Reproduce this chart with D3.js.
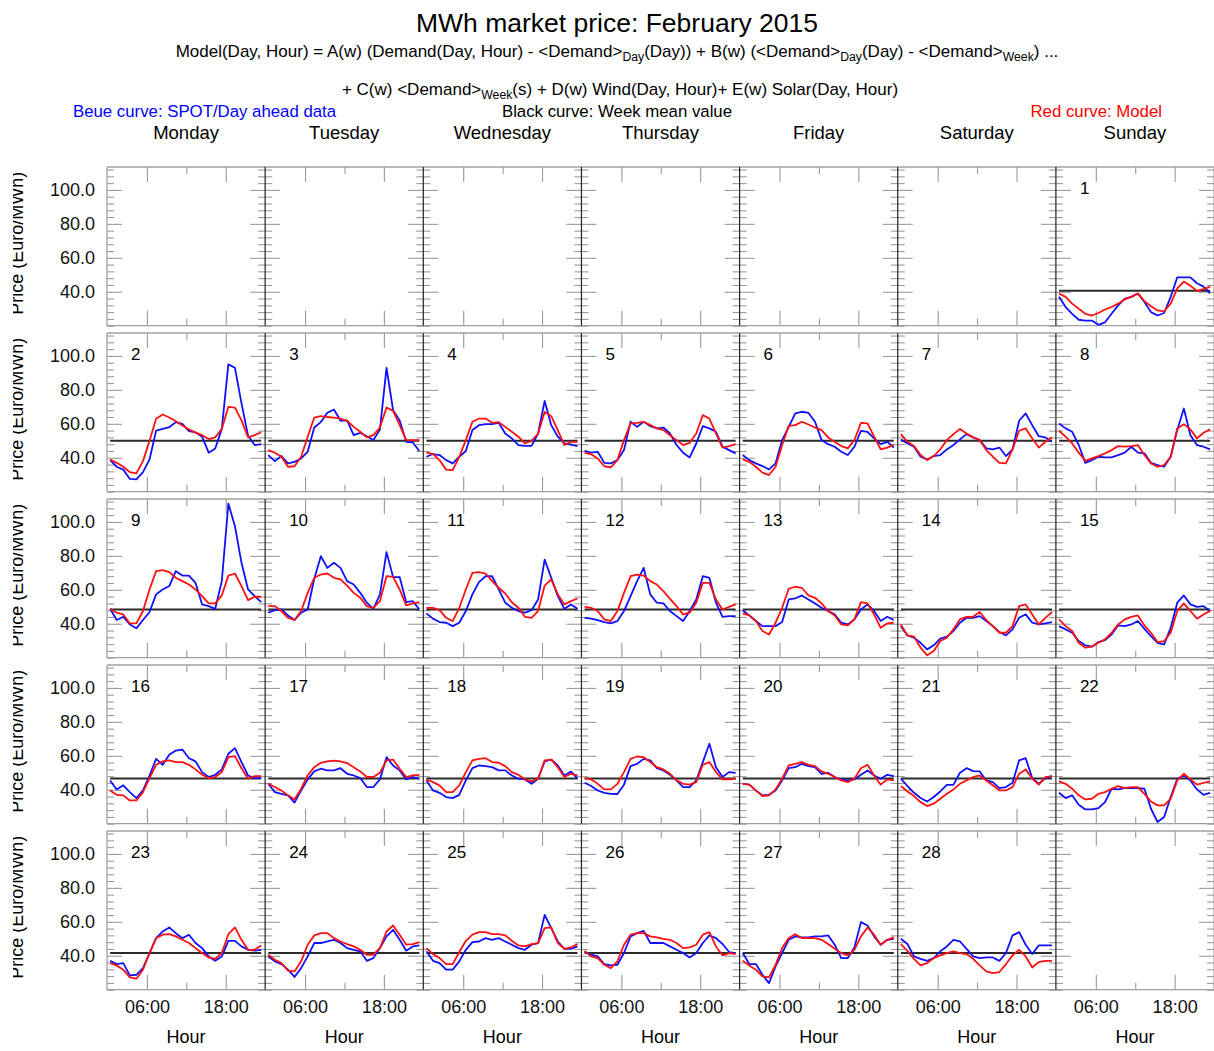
<!DOCTYPE html>
<html>
<head>
<meta charset="utf-8">
<script src="https://cdn.jsdelivr.net/npm/d3@7"></script>
<style>
  body { margin: 0; background: #fff; }
  svg { display: block; font-family: "Liberation Sans", Arial, Helvetica, sans-serif; }
</style>
</head>
<body>
<svg id="chart"></svg>
<script>
let dayNames = ["Monday", "Tuesday", "Wednesday", "Thursday", "Friday", "Saturday", "Sunday"];
let yTicks = [40, 60, 80, 100];
let yTickLabels = ["40.0", "60.0", "80.0", "100.0"];
let xTicks = [6, 18];
let xTickLabels = ["06:00", "18:00"];

// black curve, one value per calendar row (week)
let weekMean = [40.6, 50, 48.4, 46.7, 41.6];

// blue curve: SPOT / day ahead, 24 hourly values for Feb 1..28
let spot = [
  [37, 31, 27, 23.5, 23, 23, 20.5, 22, 27, 32, 36, 37, 39, 34, 28, 26, 27.5, 37, 48.5, 48.5, 48.5, 45, 43, 39],
  [38.6, 34.7, 33, 27.5, 27.3, 31.5, 39, 56, 57, 58, 61, 60, 55.7, 55, 52.4, 43, 45.5, 57, 95, 93, 72, 53, 47.5, 48],
  [41.6, 38, 41, 36.7, 37.6, 39.6, 43.5, 57.8, 61, 66.5, 68.4, 61.8, 62, 53.3, 54.7, 52.7, 50.4, 56.7, 93, 68, 62, 49.4, 49, 44],
  [40.6, 42.2, 41.6, 38.6, 36.7, 40.6, 44, 56.3, 59.2, 59.8, 59.8, 60.6, 54.3, 51.4, 47.5, 47, 47, 54.3, 73.5, 59.2, 52.4, 48.4, 47.8, 46.9],
  [44, 43, 43.5, 37, 36.7, 38.6, 44.5, 61.2, 58.2, 61.2, 58.6, 57.3, 57.8, 54.3, 47.5, 43, 40.2, 48.4, 58.6, 57.3, 55.3, 46.5, 44.5, 42.6],
  [41.6, 38.6, 36.7, 35.1, 33.1, 36.7, 50.4, 58.2, 66.1, 67.1, 66.5, 61.2, 50.4, 48, 46.5, 43.5, 41.6, 46.5, 55.9, 55.3, 51.4, 48, 49.4, 46],
  [50.8, 48.4, 46.5, 40.6, 39, 41, 41.6, 44.9, 47.5, 50.8, 53.9, 52, 50.4, 45.5, 44.9, 46, 41, 44.9, 61.8, 66.1, 59.2, 52.7, 52, 49.4],
  [60.2, 57.3, 55.3, 47.5, 37, 38.6, 40.6, 40.2, 40.2, 41.6, 43, 46.5, 43, 42.6, 37, 35.7, 34.7, 40.6, 56.3, 69, 53.3, 47.5, 46.5, 44.9],
  [48.8, 42.2, 44.1, 39.6, 37.3, 42.2, 46.9, 57.3, 60.2, 62.2, 71, 68.4, 68.4, 64.1, 51.4, 50.4, 48.8, 65.1, 110.8, 97.5, 75.9, 60.2, 56.3, 52.7],
  [46.5, 48, 48.4, 44.9, 42.2, 46.5, 48.4, 66.5, 79.8, 72.9, 75.9, 72.9, 65.1, 63.1, 58.2, 52.4, 48.8, 57.3, 82.2, 67.5, 67.5, 52.7, 53.3, 48.4],
  [46.1, 43, 41, 40.6, 38.6, 40.6, 47.5, 57.3, 64.5, 68, 68, 60.2, 52.4, 49.4, 47.5, 46.5, 48, 54.3, 77.8, 67.1, 56.3, 48.8, 51.4, 48.8],
  [43.5, 43, 42.2, 41, 40.2, 41.6, 47.5, 56.3, 65.1, 72.9, 57.3, 52.4, 52, 47.5, 44.5, 41.6, 47.5, 54.3, 68, 67.1, 52.4, 44.1, 44.5, 44.5],
  [48, 44.9, 41.6, 38.6, 38.6, 38.6, 41, 54.3, 54.9, 56.7, 54.3, 52, 49.4, 47.5, 45.5, 40.6, 39.6, 42.6, 48.4, 51.4, 47.5, 41.6, 44.1, 42.2],
  [38.6, 33.1, 31.8, 28.8, 24.9, 27.3, 31.2, 32.4, 35.7, 40.6, 43.5, 43.5, 44.5, 41.6, 38.6, 35.1, 33.1, 36.7, 43.5, 45.5, 40.6, 39.6, 40.2, 41],
  [38.6, 36.7, 34.7, 29.8, 27.3, 26.5, 29.2, 30.4, 33.7, 39, 38.6, 39.6, 41.6, 37, 32.7, 28.8, 27.8, 37.6, 52.4, 56.7, 51.4, 50, 50.4, 47.5],
  [45.5, 40.2, 42.6, 38.6, 35.1, 39.6, 48.4, 58.2, 54.7, 60.6, 63.1, 63.7, 58.6, 56.7, 50.4, 47.5, 48.8, 52, 61.2, 64.5, 56.3, 48.4, 46.9, 46.9],
  [43.5, 38.6, 37.6, 36.7, 32.4, 39.6, 46.1, 50.8, 52.4, 51.4, 51.4, 52.7, 49.4, 48.4, 46.9, 41.6, 41.6, 46.1, 59.2, 54.3, 51.4, 46.1, 47.5, 46.5],
  [45.5, 39.6, 38.2, 35.7, 35.1, 37, 45.5, 52.7, 54.3, 53.9, 53.3, 51.4, 51.4, 48.4, 46.5, 46.1, 43.5, 46.5, 56.7, 57.8, 54.3, 48.4, 50.8, 46.5],
  [44.1, 42.2, 39.6, 38.2, 37.6, 37.5, 43, 53.9, 55.3, 58.2, 57.3, 52.7, 51.4, 48.8, 45.5, 41.6, 41.6, 45.5, 56.3, 67.1, 53.3, 47.5, 50.4, 50],
  [43.5, 43, 39.6, 36.7, 37, 39.6, 45.5, 52.7, 53.3, 55.3, 53.9, 53.3, 49.4, 50, 47.5, 46.1, 45.5, 46.1, 48.8, 51.4, 48.4, 46.5, 48.8, 48],
  [46.5, 42.2, 38.2, 35.1, 33.1, 35.7, 39, 42.9, 42.9, 50, 52.7, 51, 50.8, 45.5, 44.5, 41, 41.6, 44.1, 57.3, 58.6, 46.9, 43.5, 46.9, 48],
  [38.2, 35.1, 36.7, 31.2, 28.4, 28.4, 29.2, 32.7, 40.6, 40.2, 41, 41, 41, 40.6, 28.8, 21, 23.9, 35.7, 46.5, 48.4, 45.5, 40.2, 37, 38.2],
  [37, 35.1, 35.7, 28.4, 28.8, 32.7, 41.6, 50.4, 54.3, 56.7, 53.3, 50.4, 52.4, 47.5, 44.5, 39.6, 37, 39.6, 48.8, 48.8, 45.5, 43.5, 43, 43.5],
  [39.6, 36.7, 35.1, 31.8, 27.5, 32.7, 39.6, 47.5, 47.5, 48.4, 49.4, 47.5, 44.5, 43.5, 42.6, 37, 38.6, 44.5, 51.4, 55.3, 49.4, 43, 45.5, 46.1],
  [42.6, 37, 35.7, 31.8, 31.8, 36.7, 43.5, 48, 48.4, 50.4, 49.4, 50.4, 48.4, 46.5, 44.5, 43.5, 46.5, 47.5, 64.1, 56.3, 48.4, 44.1, 44.1, 45.5],
  [42.2, 40.6, 39.6, 35.1, 34.3, 34.7, 41.6, 51.4, 53.3, 54.7, 47.5, 47.5, 47.5, 45.5, 43.5, 41.6, 39, 41.6, 47.5, 52, 50.4, 46.9, 42.2, 41.6],
  [41.6, 35.1, 35.1, 28.8, 23.9, 33.7, 41.6, 49.4, 51.4, 50.8, 50.8, 51.4, 51.4, 52, 46.5, 38.6, 38.6, 44.9, 59.8, 57.8, 51.4, 46.5, 49.4, 50],
  [50, 46.9, 39.6, 38.2, 37, 38.6, 42.6, 45.5, 49.4, 48.4, 44.1, 39.6, 38.6, 39, 39, 37, 41.6, 52, 53.9, 46.5, 41, 46.1, 46.1, 46.1]
];

// red curve: model, 24 hourly values for Feb 1..28
let model = [
  [39, 37, 33, 30, 27, 26, 27.5, 29.5, 31, 33, 35.5, 37, 39, 34.5, 31.5, 29, 28.5, 33, 42, 46, 43.5, 40.5, 41.5, 43],
  [39, 37, 34.7, 31.5, 30.8, 38, 50, 63, 65.5, 63.7, 61.5, 59, 56.7, 54.8, 53.3, 51, 52, 57, 70, 69.5, 62, 52, 53.3, 55],
  [44.5, 43, 40.6, 34.7, 35, 40.6, 52.4, 63.7, 64.5, 64, 63.7, 63, 61.8, 58.2, 55.3, 52, 53.3, 57.8, 69.6, 67.6, 59.2, 50.4, 50.4, 50.4],
  [43, 42.2, 38.6, 33, 32.7, 40.6, 50.4, 61.2, 63.1, 63.1, 60.6, 61, 58.2, 55.3, 52.4, 48.4, 50, 54.3, 67, 64.5, 56.3, 47.5, 49.4, 49.4],
  [43, 42, 39.6, 35, 34.3, 38.6, 50.4, 60.2, 60.6, 61.2, 59.2, 57.3, 56.3, 53.3, 50.4, 47.5, 48.8, 54.3, 65.1, 63.1, 54.3, 46, 46.9, 48],
  [39, 37.6, 34.7, 31.2, 29.8, 34.7, 47.5, 58.8, 59.2, 61.2, 59.6, 57.8, 56.3, 52, 49.4, 46.9, 45.5, 50.4, 60.6, 60.2, 52.4, 45, 46, 47.5],
  [53.9, 49.4, 46.9, 41.6, 38.6, 41, 44.9, 50.4, 53.9, 56.9, 54.3, 52, 50.4, 44.5, 40.6, 37, 36.7, 44.9, 55.9, 57.3, 51.4, 46, 49.4, 52],
  [55.9, 52.4, 48.4, 43, 38.2, 39.6, 41, 42.6, 44.5, 46.9, 46.5, 46.9, 47.5, 41.6, 36.7, 34.7, 35.7, 40.6, 57.3, 59.8, 56.7, 51.4, 54.7, 56.7],
  [48.8, 46.5, 45.5, 40.2, 40.2, 47.5, 60.2, 71, 71.6, 70.4, 67.1, 65.1, 63.1, 60.2, 56.3, 52, 52, 56.7, 68.4, 69.6, 62.2, 53.9, 55.9, 55.9],
  [50.4, 50.4, 47.5, 43.5, 42.2, 47.5, 58.2, 67.1, 69, 69.6, 67.1, 66.1, 62.5, 58.2, 55.3, 50.4, 49.4, 53.3, 68, 67.6, 60.2, 50.8, 52, 52.7],
  [49.4, 49.4, 48, 43.5, 41.6, 49.4, 60.2, 70, 70.4, 69.6, 65.1, 61.2, 57.8, 52.7, 49.4, 44.1, 43.5, 47.5, 62.5, 66.1, 57.3, 51.4, 53.3, 54.9],
  [50, 49.4, 47.5, 42.6, 41.6, 47.5, 58.2, 68, 69, 68.4, 65.1, 63.1, 59.2, 54.7, 50.4, 45.5, 46.5, 52.4, 64.1, 64.1, 54.3, 48.4, 50, 51.4],
  [46.1, 44.9, 41.6, 35.7, 33.7, 40.6, 49.4, 60.6, 61.8, 61.2, 56.7, 55.3, 52, 47.5, 44.9, 39.6, 39, 42.6, 52.7, 52, 45.5, 37.6, 40.2, 40.6],
  [39.6, 33.1, 32.4, 25.9, 21.4, 23.9, 29.8, 31.8, 36.7, 42.6, 44.1, 44.1, 46.9, 42.2, 38.6, 34.7, 34.7, 38.6, 50.4, 51.4, 45.5, 39.6, 43.5, 46.9],
  [42.6, 38.6, 35.7, 28.8, 25.9, 26.5, 28.8, 30.8, 34.7, 39.6, 42.6, 44.1, 44.9, 39, 34.7, 29.2, 29.8, 34.7, 47.5, 52, 47.5, 43, 45.5, 47.5],
  [39.6, 37, 36.7, 33.7, 33.7, 38.6, 46.9, 54.7, 56.7, 57.3, 56.3, 56.3, 54.7, 52, 48.8, 46.9, 47.5, 50.4, 59.2, 59.8, 52.7, 46.5, 48, 48],
  [43.5, 41.6, 39.6, 36.7, 34.3, 40.6, 48.4, 53.3, 55.9, 56.7, 57.1, 56.7, 55.7, 53.3, 50.8, 47.5, 47.5, 50, 57.3, 57.8, 52.4, 47.5, 48.4, 48.8],
  [46.1, 44.5, 42.6, 38.6, 38.6, 42.6, 50.4, 57.3, 58.2, 58.6, 56.3, 55.9, 53.9, 50.4, 48.8, 46.1, 44.9, 46.5, 57.3, 57.8, 53.3, 47.5, 49.4, 48.4],
  [46.9, 46.1, 43.5, 40.2, 40.2, 43.5, 50.4, 58.2, 59.6, 59.2, 56.3, 53.3, 52, 49.4, 45.5, 43.5, 43, 44.5, 54.7, 56.3, 50.4, 46.1, 46.1, 46.5],
  [43.5, 43, 39.6, 36.3, 36.7, 40.2, 46.5, 54.3, 55.3, 56.3, 54.7, 53.9, 50.8, 49.4, 47.5, 45.5, 44.5, 46.5, 52.7, 54.7, 48.4, 43, 46.1, 45.5],
  [42.2, 39, 36.3, 32.7, 30.4, 31.8, 34.7, 37.6, 40.2, 43.5, 45.5, 47.5, 48.4, 45.5, 42.6, 39.6, 39.6, 41.6, 49.4, 52, 46.5, 43, 47.5, 48],
  [44.9, 43.5, 40.6, 36.7, 34.3, 34.7, 37.6, 38.6, 40.6, 42.2, 41, 41.6, 41.6, 37.6, 33.1, 30.8, 30.8, 34.7, 45.5, 49.4, 46.1, 43, 44.1, 44.9],
  [35.7, 34.3, 31.8, 27.3, 26.5, 31.8, 41.6, 50.4, 52.4, 52.7, 51.4, 49.4, 47.5, 44.5, 41.6, 39, 38.2, 41.6, 52.7, 56.7, 49.4, 43.5, 43.5, 46.1],
  [40.6, 37.6, 35.7, 31.2, 30.8, 36.7, 46.5, 52, 53.3, 53.3, 50.4, 48.4, 46.9, 45.5, 43.5, 40.6, 40.6, 44.5, 54.3, 57.8, 52.4, 46.5, 46.9, 48],
  [44.5, 41, 38.6, 35.1, 35.1, 42.2, 48.8, 52.4, 53.9, 53.9, 52.7, 52.7, 52, 48.8, 46.1, 45.5, 46.9, 47.5, 56.3, 56.7, 47.5, 44.1, 44.9, 46.9],
  [42.9, 39.6, 38.6, 34.7, 32.7, 36.7, 46.5, 52.4, 53.3, 53.3, 51.4, 50.8, 50, 49.4, 47.5, 44.5, 44.9, 46.5, 52.4, 53.9, 45.5, 40.2, 41.6, 41],
  [37, 34.3, 31.8, 27.8, 27.3, 34.7, 44.5, 50.4, 52.7, 50.4, 50.4, 50.4, 49.4, 46.9, 44.1, 41.6, 40.2, 43.5, 51.4, 56.7, 52.4, 46.5, 49.4, 50.8],
  [46.9, 42.9, 38.2, 34.3, 35.7, 38.6, 40.2, 41.6, 42.6, 41.6, 41, 38.2, 34.3, 30.8, 29.8, 30.4, 35.1, 40.2, 43.5, 39.6, 33.1, 36.3, 37, 37]
];

let size = {width: 1214, height: 1051};
let left = 107, colW = 158.15, top0 = 167, rowH = 166, panelH = 158.7;
let tickGrey = "#9a9a9a", fontFam = '"Liberation Sans", Arial, sans-serif';

let x = d3.scaleLinear().domain([0, 24]).range([0.5, colW]);
let y = d3.scaleLinear().domain([20, 113.5]).range([panelH, 0]);
let minorY = d3.range(20, 114, 4).filter(v => !yTicks.includes(v));

let svg = d3.select('#chart')
  .attr("width", size.width)
  .attr("height", size.height);

svg.append("rect").attr("width", size.width).attr("height", size.height).attr("fill", "white");

// ---- headers ----
function richText(px, py, fs, parts, anchor, color) {
  let t = svg.append("text")
    .attr("x", px).attr("y", py)
    .attr("font-size", fs)
    .attr("text-anchor", anchor || "middle")
    .attr("fill", color || "black");
  let low = false;
  parts.forEach(p => {
    let isSub = typeof p !== "string";
    let s = t.append("tspan").text(isSub ? p.sub : p);
    if (isSub) { s.attr("font-size", "0.72em").attr("dy", "0.3em"); low = true; }
    else if (low) { s.attr("dy", "-0.22em"); low = false; }
  });
  return t;
}

richText(617, 32, 26.5, ["MWh market price: February 2015"]);
richText(617, 57, 17, ["Model(Day, Hour) = A(w) (Demand(Day, Hour) - <Demand>", {sub: "Day"},
  "(Day)) + B(w) (<Demand>", {sub: "Day"}, "(Day) - <Demand>", {sub: "Week"}, ") ..."]);
richText(620, 95, 17, ["+ C(w) <Demand>", {sub: "Week"}, "(s) + D(w) Wind(Day, Hour)+ E(w) Solar(Day, Hour)"]);
richText(73, 117, 16.8, ["Beue curve: SPOT/Day ahead data"], "start", "#0000ff");
richText(617, 117, 16.8, ["Black curve: Week mean value"], "middle", "black");
richText(1162, 117, 16.8, ["Red curve: Model"], "end", "#ff0000");

svg.append("g").selectAll("text")
  .data(dayNames)
  .enter().append("text")
  .attr("x", (d, i) => left + colW * i + colW / 2)
  .attr("y", 139)
  .attr("text-anchor", "middle")
  .attr("font-size", 18.5)
  .text(d => d);

// ---- y title, clipped at the left like the source ----
svg.append("clipPath").attr("id", "titleClip")
  .append("rect").attr("x", 13).attr("y", 0).attr("width", 40).attr("height", size.height);

svg.append("g").attr("clip-path", "url(#titleClip)")
  .selectAll("text")
  .data(d3.range(5))
  .enter().append("text")
  .attr("transform", r => `translate(23,${top0 + r * rowH + panelH / 2 - 3}) rotate(-90)`)
  .attr("text-anchor", "middle")
  .attr("font-size", 18)
  .text("Price (Euro/MWh)");

// ---- panels ----
let panels = d3.range(35).map(i => {
  let r = Math.floor(i / 7), c = i % 7;
  return {r: r, c: c, day: r * 7 + c - 5};
});

let line = d3.line()
  .x((d, i) => x(i + 0.4))
  .y(d => y(d));

function styleTicks(g) {
  g.select(".domain").remove();
  g.selectAll("line").attr("stroke", tickGrey).attr("stroke-width", 1.1);
}

panels.forEach(p => {
  let g = svg.append("g")
    .attr("transform", `translate(${left + p.c * colW},${top0 + p.r * rowH})`);

  // tick marks on all four sides, pointing inward
  g.append("g").call(d3.axisLeft(y).tickValues(minorY).tickSize(-7).tickFormat("")).call(styleTicks);
  g.append("g").call(d3.axisLeft(y).tickValues(yTicks).tickSize(-15).tickFormat("")).call(styleTicks);
  g.append("g").attr("transform", `translate(${colW},0)`)
    .call(d3.axisRight(y).tickValues(minorY).tickSize(-7).tickFormat("")).call(styleTicks);
  g.append("g").attr("transform", `translate(${colW},0)`)
    .call(d3.axisRight(y).tickValues(yTicks).tickSize(-15).tickFormat("")).call(styleTicks);
  g.append("g").call(d3.axisTop(x).tickValues(xTicks).tickSize(-15).tickFormat("")).call(styleTicks);
  g.append("g").call(d3.axisTop(x).tickValues([12]).tickSize(-7).tickFormat("")).call(styleTicks);
  g.append("g").attr("transform", `translate(0,${panelH})`)
    .call(d3.axisBottom(x).tickValues(xTicks).tickSize(-15).tickFormat("")).call(styleTicks);
  g.append("g").attr("transform", `translate(0,${panelH})`)
    .call(d3.axisBottom(x).tickValues([12]).tickSize(-7).tickFormat("")).call(styleTicks);

  // frame
  g.append("line").attr("x1", 0).attr("x2", colW).attr("y1", 0).attr("y2", 0)
    .attr("stroke", "#a0a0a0").attr("stroke-width", 1.3);
  g.append("line").attr("x1", 0).attr("x2", colW).attr("y1", panelH).attr("y2", panelH)
    .attr("stroke", "#a0a0a0").attr("stroke-width", 1.3);
  g.append("line").attr("x1", 0).attr("x2", 0).attr("y1", 0).attr("y2", panelH)
    .attr("stroke", p.c == 0 ? "#a0a0a0" : "#222").attr("stroke-width", p.c == 0 ? 1.3 : 1.2);
  if (p.c == 6)
    g.append("line").attr("x1", colW).attr("x2", colW).attr("y1", 0).attr("y2", panelH)
      .attr("stroke", "#a0a0a0").attr("stroke-width", 1.3);

  // tick labels
  if (p.c == 0) {
    let ya = g.append("g")
      .call(d3.axisLeft(y).tickValues(yTicks).tickSize(0).tickPadding(12)
        .tickFormat((d, i) => yTickLabels[i]));
    ya.select(".domain").remove();
    ya.selectAll("text").attr("font-size", 18).attr("font-family", fontFam).attr("fill", "#111");
  }
  if (p.r == 4) {
    let xa = g.append("g").attr("transform", `translate(0,${panelH})`)
      .call(d3.axisBottom(x).tickValues(xTicks).tickSize(0).tickPadding(10.5)
        .tickFormat((d, i) => xTickLabels[i]));
    xa.select(".domain").remove();
    xa.selectAll("text").attr("font-size", 18).attr("font-family", fontFam).attr("fill", "#111");
    g.append("text")
      .attr("x", colW / 2).attr("y", panelH + 53)
      .attr("text-anchor", "middle")
      .attr("font-size", 18)
      .text("Hour");
  }

  if (p.day < 1 || p.day > 28) return;

  g.append("path")
    .datum([weekMean[p.r], weekMean[p.r]])
    .attr("fill", "none")
    .attr("stroke", "#2a2a2a")
    .attr("stroke-width", 2)
    .attr("d", d3.line().x((d, i) => x(0.4 + i * 23)).y(d => y(d)));

  g.append("path")
    .datum(spot[p.day - 1])
    .attr("fill", "none")
    .attr("stroke", "#1010ff")
    .attr("stroke-width", 1.8)
    .attr("stroke-linejoin", "round")
    .attr("d", line);

  g.append("path")
    .datum(model[p.day - 1])
    .attr("fill", "none")
    .attr("stroke", "#ff1010")
    .attr("stroke-width", 1.8)
    .attr("stroke-linejoin", "round")
    .attr("d", line);

  g.append("text")
    .attr("x", 24).attr("y", 27)
    .attr("font-size", 17)
    .text(p.day);
});
</script>
</body>
</html>
